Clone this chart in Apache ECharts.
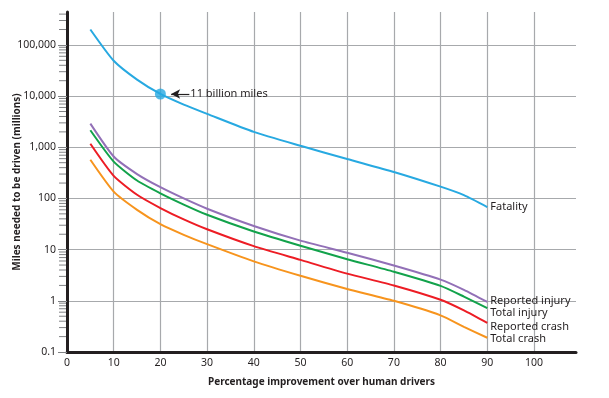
<!DOCTYPE html>
<html>
<head>
<meta charset="utf-8">
<script src="https://cdn.jsdelivr.net/npm/echarts@6/dist/echarts.min.js"></script>
<style>
  html, body { margin: 0; padding: 0; background: #fff; }
  #chart { width: 609px; height: 398px; }
</style>
</head>
<body>
<div id="chart"></div>
<script>
// Percentage improvement over human drivers
const improvement = [5, 10, 15, 20, 25, 30, 40, 50, 60, 70, 80, 85, 90];

// Miles needed to be driven (millions)
const fatality       = [200000, 49000, 21000, 11000, 6800, 4500, 2000, 1070, 590, 330, 170, 116, 68];
const reportedInjury = [2900, 660, 300, 166, 100, 63, 29, 15, 8.7, 4.9, 2.6, 1.64, 0.95];
const totalInjury    = [2150, 525, 224, 126, 76, 48, 22.6, 11.9, 6.5, 3.7, 1.96, 1.21, 0.72];
const reportedCrash  = [1170, 276, 118, 65, 39, 25, 11.7, 6.3, 3.4, 2.0, 1.05, 0.65, 0.37];
const totalCrash     = [570, 136, 60, 31.5, 19.5, 12.8, 5.9, 3.08, 1.7, 1.0, 0.52, 0.31, 0.19];

const seriesNames = ['Fatality', 'Reported injury', 'Total injury', 'Reported crash', 'Total crash'];
const seriesColors = ['#27a9e1', '#9270b7', '#12a24b', '#ed1c24', '#f7941d'];
const seriesData = [fatality, reportedInjury, totalInjury, reportedCrash, totalCrash];
const labelOffsets = [[0, 0], [0, -1], [0, 5], [0, 4], [0, 1]];

// Callout
const calloutX = 20;
const calloutY = 11000;
const calloutText = '11 billion miles';

// minor ticks on the log axis (2..9 per decade)
const minorTickValues = [];
[0.1, 1, 10, 100, 1000, 10000, 100000].forEach(function (d) {
  for (let k = 2; k <= 9; k++) {
    const v = k * d;
    if (v <= 420000) minorTickValues.push(v);
  }
});

const FONT = 'Noto Sans';
const chart = echarts.init(document.getElementById('chart'));

const lineSeries = seriesNames.map(function (name, i) {
  return {
    name: name,
    type: 'line',
    data: improvement.map(function (x, j) { return [x, seriesData[i][j]]; }),
    showSymbol: false,
    symbol: 'none',
    smooth: 0.2,
    lineStyle: { color: seriesColors[i], width: 2 },
    itemStyle: { color: seriesColors[i] },
    z: 3,
    endLabel: {
      show: true,
      formatter: '{a}',
      color: '#231f20',
      fontFamily: FONT,
      fontSize: 11,
      distance: 3,
      offset: labelOffsets[i]
    }
  };
});

// arrow + text for the callout
lineSeries[0].markLine = {
  silent: true,
  symbolSize: [7, 9],
  lineStyle: { color: '#231f20', width: 1.2, type: 'solid' },
  label: {
    show: true,
    position: 'start',
    formatter: calloutText,
    color: '#231f20',
    fontFamily: FONT,
    fontSize: 11,
    distance: 1
  },
  data: [[
    { coord: [26.2, calloutY], symbol: 'none' },
    { coord: [22.3, calloutY], symbol: 'arrow' }
  ]]
};

const option = {
  animation: false,
  grid: { left: 67, right: 33, top: 12, bottom: 46, outerBoundsMode: 'none', containLabel: false },
  xAxis: {
    type: 'value',
    min: 0,
    max: 109,
    interval: 10,
    name: 'Percentage improvement over human drivers',
    nameLocation: 'middle',
    nameGap: 25,
    nameMoveOverlap: false,
    nameTextStyle: { fontFamily: FONT, fontSize: 10, fontWeight: 'bold', color: '#231f20' },
    axisLine: { show: true, lineStyle: { color: '#231f20', width: 3 } },
    axisTick: { show: false },
    axisLabel: { fontFamily: FONT, fontSize: 10.5, color: '#231f20', margin: 6, showMaxLabel: false },
    splitLine: { show: true, showMinLine: false, showMaxLine: false, lineStyle: { color: '#a7a9ac', width: 1.2 } }
  },
  yAxis: {
    type: 'log',
    logBase: 10,
    min: 0.1,
    max: 440000,
    name: 'Miles needed to be driven (millions)',
    nameLocation: 'middle',
    nameGap: 45,
    nameMoveOverlap: false,
    nameTextStyle: { fontFamily: FONT, fontSize: 10, fontWeight: 'bold', color: '#231f20' },
    axisLine: { show: true, lineStyle: { color: '#231f20', width: 3 } },
    axisTick: { show: true, length: 9, lineStyle: { color: '#808285', width: 1 } },
    axisLabel: {
      fontFamily: FONT,
      fontSize: 10.5,
      color: '#231f20',
      margin: 11,
      showMaxLabel: false,
      formatter: function (v) {
        const e = Math.log10(v);
        if (Math.abs(e - Math.round(e)) > 1e-6) return '';
        return v >= 1000 ? Math.round(v).toLocaleString('en-US') : String(v);
      }
    },
    splitLine: { show: true, showMinLine: false, showMaxLine: false, lineStyle: { color: '#a7a9ac', width: 1.2 } }
  },
  series: lineSeries.concat([
    {
      type: 'scatter',
      data: [[calloutX, calloutY]],
      symbolSize: 11,
      itemStyle: { color: '#27a9e1' },
      z: 4,
      silent: true
    },
    {
      type: 'custom',
      silent: true,
      clip: false,
      z: 1,
      data: minorTickValues.map(function (v) { return [0, v]; }),
      renderItem: function (params, api) {
        const p = api.coord([api.value(0), api.value(1)]);
        return {
          type: 'line',
          shape: { x1: p[0] - 8, y1: p[1], x2: p[0] - 1, y2: p[1] },
          style: { stroke: '#808285', lineWidth: 1 }
        };
      }
    }
  ])
};

chart.setOption(option);
</script>
</body>
</html>
